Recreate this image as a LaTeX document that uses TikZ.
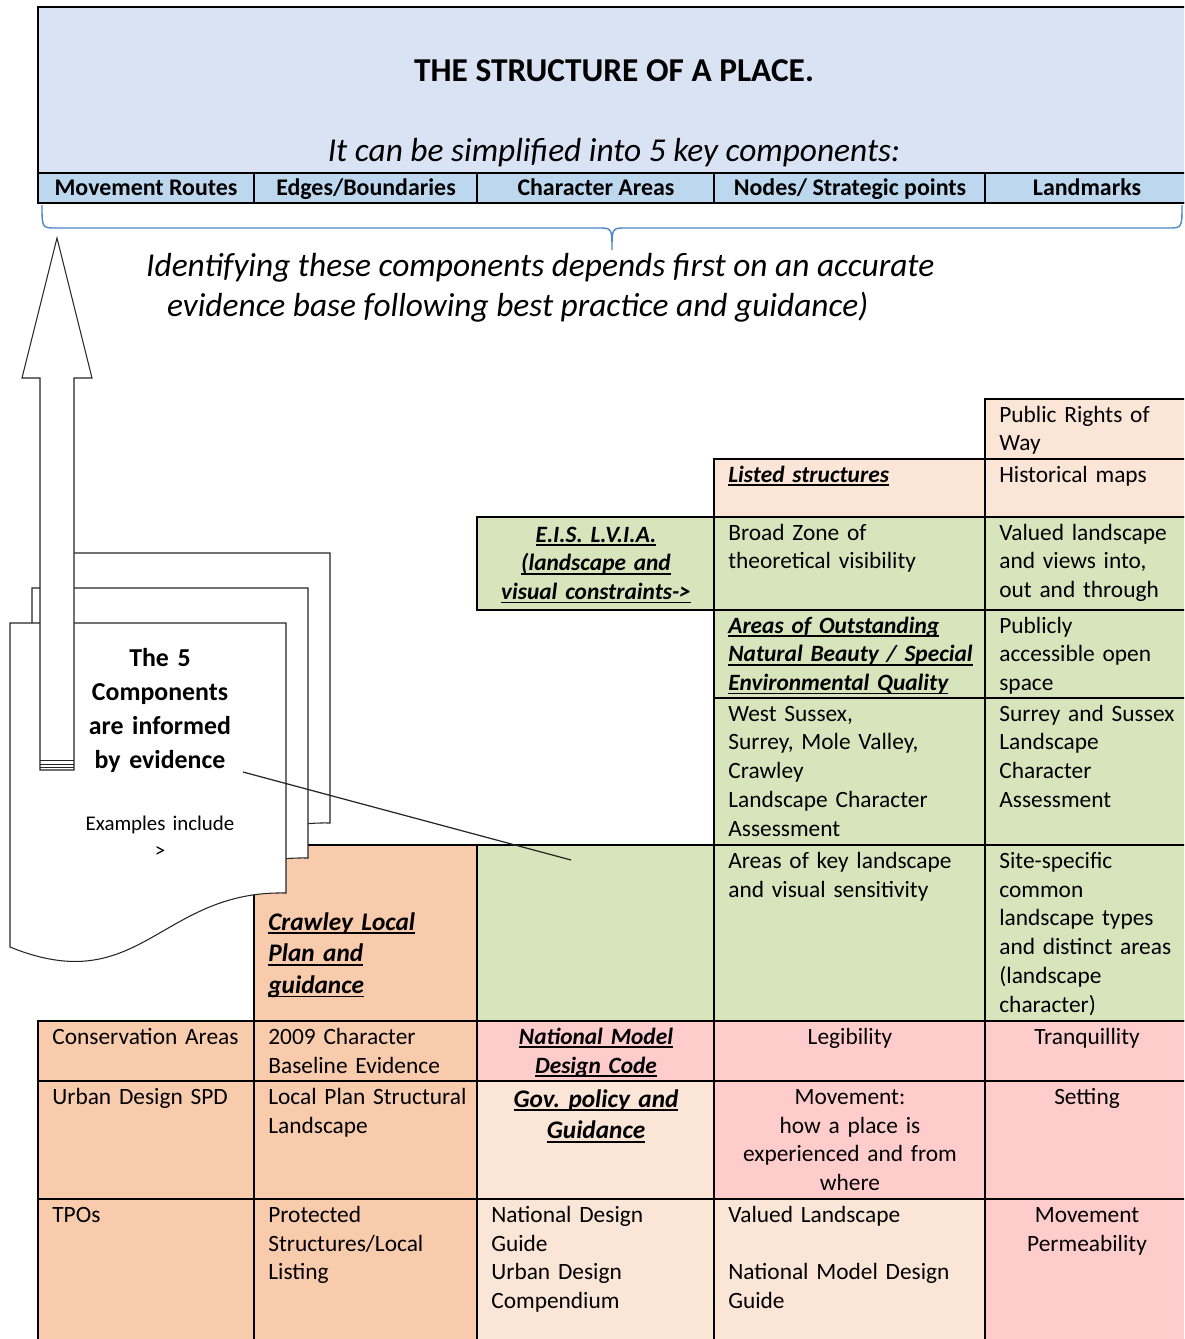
\documentclass[tikz,border=0pt]{standalone}
\usepackage{fontspec}
\setmainfont{Carlito}
\usepackage{tikz}

\definecolor{hdrblue}{HTML}{DAE3F3}
\definecolor{keyblue}{HTML}{BDD7EE}
\definecolor{braceblue}{HTML}{4A86C8}
\definecolor{peach}{HTML}{FBE5D6}
\definecolor{apricot}{HTML}{F8CBAD}
\definecolor{sage}{HTML}{D8E4BC}
\definecolor{rose}{HTML}{FFCCCC}

\frenchspacing
\newcommand{\cellfont}{\fontsize{13.3}{16.5}\selectfont}
\newcommand{\keyfont}{\fontsize{14.4}{18.1}\selectfont}
% bold italic heading with a Word-like underline
\newsavebox\hdbox
\newcommand{\hd}[1]{\sbox\hdbox{\bfseries\itshape #1}\usebox\hdbox\llap{\rule[-0.15em]{\wd\hdbox}{0.07em}}}

\begin{document}
\begin{tikzpicture}[x=0.02cm,y=-0.02cm,
  cell/.style={draw=black,line width=0.6pt},
  txt/.style={anchor=base west,inner sep=0pt,text width=5cm,align=left,font=\cellfont},
  ctxt/.style={anchor=base,inner sep=0pt,text width=5cm,align=center,font=\cellfont},
  page/.style={draw=black!85,fill=white,line width=0.6pt}]
\useasboundingbox (0,0) rectangle (1184,1339);
\clip (0,0) rectangle (1184,1339);

% header with the five components
\filldraw[fill=hdrblue,line width=1pt] (38,7) rectangle (1190,203);
\filldraw[fill=keyblue,line width=0.7pt] (38,173) rectangle (1190,203);
\draw[line width=0.7pt] (254,173)--(254,203) (477,173)--(477,203) (714,173)--(714,203) (985,173)--(985,203);
\node[anchor=base,font=\fontsize{19}{23}\selectfont\bfseries] (title) at (614,81) {THE STRUCTURE OF A PLACE.};
\node[anchor=base,font=\fontsize{19}{23}\selectfont\itshape] (subtitle) at (614,161) {It can be simplified into 5 key components:};
\node[anchor=base,font=\fontsize{13.6}{16}\selectfont\bfseries] (routes) at (146,195) {Movement Routes};
\node[anchor=base,font=\fontsize{13.6}{16}\selectfont\bfseries] (edges) at (366,195) {Edges/Boundaries};
\node[anchor=base,font=\fontsize{13.6}{16}\selectfont\bfseries] (areas) at (596,195) {Character Areas};
\node[anchor=base,font=\fontsize{13.6}{16}\selectfont\bfseries] (points) at (850,195) {Nodes/ Strategic points};
\node[anchor=base,font=\fontsize{13.6}{16}\selectfont\bfseries] (marks) at (1087,195) {Landmarks};

% brace under the components
\draw[braceblue,line width=0.8pt] (42,205) .. controls (42,228) .. (56,228) -- (598,228)
  .. controls (612,228) .. (612,250) .. controls (612,228) .. (626,228) -- (1168,228)
  .. controls (1182,228) .. (1182,205);
\node[anchor=base west,font=\fontsize{19}{23}\selectfont\itshape] (idea1) at (140,276) {Identifying these components depends first on an accurate};
\node[anchor=base west,font=\fontsize{19}{23}\selectfont\itshape] (idea2) at (161,316) {evidence base following best practice and guidance)};

% evidence table
\filldraw[cell,fill=peach] (985,399) rectangle (1190,459) (714,459) rectangle (985,517) (985,459) rectangle (1190,517)
  (477,1081) rectangle (714,1199) (477,1199) rectangle (714,1345) (714,1199) rectangle (985,1345);
\filldraw[cell,fill=sage] (477,517) rectangle (714,610) (714,517) rectangle (985,610) (985,517) rectangle (1190,610)
  (714,610) rectangle (985,698) (985,610) rectangle (1190,698)
  (714,698) rectangle (985,845) (985,698) rectangle (1190,845)
  (477,845) rectangle (714,1021) (714,845) rectangle (985,1021) (985,845) rectangle (1190,1021);
\filldraw[cell,fill=apricot] (254,845) rectangle (477,1021)
  (38,1021) rectangle (254,1081) (254,1021) rectangle (477,1081)
  (38,1081) rectangle (254,1199) (254,1081) rectangle (477,1199)
  (38,1199) rectangle (254,1345) (254,1199) rectangle (477,1345);
\filldraw[cell,fill=rose] (477,1021) rectangle (714,1081) (714,1021) rectangle (985,1081) (985,1021) rectangle (1190,1081)
  (714,1081) rectangle (985,1199) (985,1081) rectangle (1190,1199) (985,1199) rectangle (1190,1345);

\node[txt] (prow) at (999,422) {Public Rights of\\Way};
\node[txt] (listed) at (728,482) {\hd{Listed structures}};
\node[txt] (maps) at (999,482) {Historical maps};
\node[ctxt] (eis) at (596,542) {\hd{E.I.S. L.V.I.A.}\\\hd{(landscape and}\\\hd{visual constraints->}};
\node[txt] (zone) at (728,540) {Broad Zone of\\theoretical visibility};
\node[txt] (views) at (999,540) {Valued landscape\\and views into,\\out and through};
\node[txt] (aonb) at (728,633) {\hd{Areas of Outstanding}\\\hd{Natural Beauty / Special}\\\hd{Environmental Quality}};
\node[txt] (open) at (999,633) {Publicly\\accessible open\\space};
\node[txt] (lca) at (728,721) {West Sussex,\\Surrey, Mole Valley,\\Crawley\\Landscape Character\\Assessment};
\node[txt] (sslca) at (999,721) {Surrey and Sussex\\Landscape\\Character\\Assessment};
\node[txt,font=\keyfont,text width=4cm] (local) at (268,930) {\hd{Crawley Local}\\\hd{Plan and}\\\hd{guidance}};
\coordinate (evidin) at (571,860);
\node[txt] (keyareas) at (728,868) {Areas of key landscape\\and visual sensitivity};
\node[txt] (types) at (999,868) {Site-specific\\common\\landscape types\\and distinct areas\\(landscape\\character)};
\node[txt] (cons) at (52,1044) {Conservation Areas};
\node[txt] (base) at (268,1044) {2009 Character\\Baseline Evidence};
\node[ctxt] (nmdc) at (596,1044) {\hd{National Model}\\\hd{Design Code}};
\node[ctxt] (legib) at (850,1044) {Legibility};
\node[ctxt] (tranq) at (1087,1044) {Tranquillity};
\node[txt] (spd) at (52,1104) {Urban Design SPD};
\node[txt] (struct) at (268,1104) {Local Plan Structural\\Landscape};
\node[ctxt,font=\keyfont] (gov) at (596,1107) {\hd{Gov. policy and}\\\hd{Guidance}};
\node[ctxt] (move) at (850,1104) {Movement:\\how a place is\\experienced and from\\where};
\node[ctxt] (setting) at (1087,1104) {Setting};
\node[txt] (tpo) at (52,1222) {TPOs};
\node[txt] (listing) at (268,1222) {Protected\\Structures/Local\\Listing};
\node[txt] (ndg) at (491,1222) {National Design\\Guide\\Urban Design\\Compendium};
\node[txt] (valued) at (728,1222) {Valued Landscape\\[16.5pt]National Model Design\\Guide};
\node[ctxt] (perm) at (1087,1222) {Movement\\Permeability};

% stack of evidence documents
\draw[page] (54,553) -- (330,553) -- (330,823) .. controls (204,820) and (184,930) .. (54,877) -- cycle;
\draw[page] (32,588) -- (308,588) -- (308,858) .. controls (182,855) and (162,965) .. (32,912) -- cycle;
\draw[page] (10,623) -- (286,623) -- (286,893) .. controls (160,890) and (140,1000) .. (10,947) -- cycle;

% block arrow up to the header
\draw[page] (57,238) -- (92,378) -- (74,378) -- (74,770) -- (40,770) -- (40,378) -- (22,378) -- cycle;
\draw[black!85] (40,760) -- (74,760) (40,764) -- (74,764) (40,767) -- (74,767);

\node[anchor=base,align=center,text width=4cm,inner sep=0pt,font=\fontsize{14.7}{19.5}\selectfont\bfseries] (evid) at (160,666) {The 5\\Components\\are informed\\by evidence};
\node[anchor=base,align=center,text width=4cm,inner sep=0pt,font=\fontsize{11.9}{15.9}\selectfont] (examples) at (160,830) {Examples include\\>};
\coordinate (evidout) at (243,772);
\draw[black!85,line width=0.7pt] (evidout) -- (evidin);
\end{tikzpicture}
\end{document}
